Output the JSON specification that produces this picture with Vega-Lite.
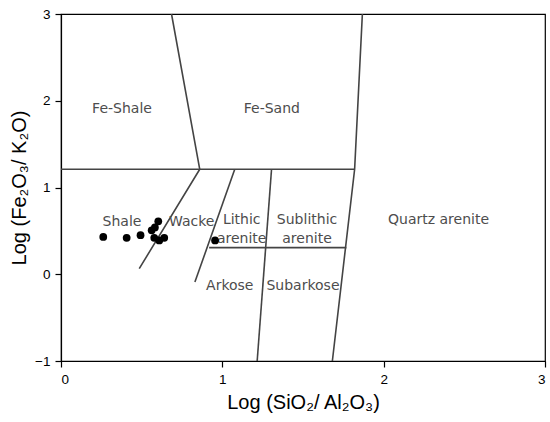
{
  "$schema": "https://vega.github.io/schema/vega-lite/v6.json",
  "width": 484,
  "height": 347,
  "autosize": {"type": "none"},
  "padding": {"left": 61, "top": 14, "right": 5, "bottom": 61},
  "background": "white",
  "config": {
    "view": {"stroke": "#000", "strokeWidth": 1.2},
    "axis": {
      "domainColor": "#000", "tickColor": "#000", "labelColor": "#000", "titleColor": "#000",
      "labelFont": "Liberation Sans", "titleFont": "Liberation Sans",
      "labelFontSize": 13.5, "titleFontSize": 20, "titleFontWeight": "normal",
      "tickSize": 6, "grid": false, "domainWidth": 1.2, "tickWidth": 1.2, "format": "d"
    }
  },
  "datasets": {
    "lines": [
      {"seg": "a", "ord": 1, "x": 0.685, "y": 3},
      {"seg": "a", "ord": 2, "x": 0.86, "y": 1.21},
      {"seg": "a", "ord": 3, "x": 0.485, "y": 0.065},
      {"seg": "b", "ord": 1, "x": 0, "y": 1.21},
      {"seg": "b", "ord": 2, "x": 1.82, "y": 1.21},
      {"seg": "c", "ord": 1, "x": 1.868, "y": 3},
      {"seg": "c", "ord": 2, "x": 1.82, "y": 1.21},
      {"seg": "c", "ord": 3, "x": 1.682, "y": -1},
      {"seg": "d", "ord": 1, "x": 1.077, "y": 1.21},
      {"seg": "d", "ord": 2, "x": 0.83, "y": -0.09},
      {"seg": "e", "ord": 1, "x": 1.305, "y": 1.21},
      {"seg": "e", "ord": 2, "x": 1.216, "y": -1},
      {"seg": "f", "ord": 1, "x": 0.918, "y": 0.307},
      {"seg": "f", "ord": 2, "x": 1.769, "y": 0.307}
    ],
    "points": [
      {"x": 0.262, "y": 0.43},
      {"x": 0.407, "y": 0.42},
      {"x": 0.493, "y": 0.45},
      {"x": 0.603, "y": 0.61},
      {"x": 0.582, "y": 0.54},
      {"x": 0.562, "y": 0.506},
      {"x": 0.578, "y": 0.42},
      {"x": 0.609, "y": 0.39},
      {"x": 0.64, "y": 0.42},
      {"x": 0.955, "y": 0.39}
    ],
    "labels": [
      {"x": 0.378, "y": 1.91, "text": "Fe-Shale"},
      {"x": 1.307, "y": 1.91, "text": "Fe-Sand"},
      {"x": 0.378, "y": 0.6, "text": "Shale"},
      {"x": 0.81, "y": 0.6, "text": "Wacke"},
      {"x": 1.12, "y": 0.63, "text": "Lithic"},
      {"x": 1.12, "y": 0.41, "text": "arenite"},
      {"x": 1.525, "y": 0.63, "text": "Sublithic"},
      {"x": 1.525, "y": 0.41, "text": "arenite"},
      {"x": 2.34, "y": 0.63, "text": "Quartz arenite"},
      {"x": 1.046, "y": -0.14, "text": "Arkose"},
      {"x": 1.5, "y": -0.14, "text": "Subarkose"}
    ]
  },
  "layer": [
    {
      "data": {"name": "lines"},
      "mark": {"type": "line", "color": "#444", "strokeWidth": 1.6},
      "encoding": {
        "x": {"field": "x", "type": "quantitative", "scale": {"domain": [0, 3], "nice": false},
          "axis": {"values": [0, 1, 2, 3], "title": "Log (SiO₂/ Al₂O₃)", "titlePadding": 7, "labelPadding": 5}},
        "y": {"field": "y", "type": "quantitative", "scale": {"domain": [-1, 3], "nice": false},
          "axis": {"values": [-1, 0, 1, 2, 3], "title": "Log (Fe₂O₃/ K₂O)", "titlePadding": 5, "labelPadding": 5}},
        "detail": {"field": "seg"},
        "order": {"field": "ord"}
      }
    },
    {
      "data": {"name": "labels"},
      "mark": {"type": "text", "font": "DejaVu Sans", "fontSize": 14, "color": "#4d4d4d"},
      "encoding": {
        "x": {"field": "x", "type": "quantitative"},
        "y": {"field": "y", "type": "quantitative"},
        "text": {"field": "text"}
      }
    },
    {
      "data": {"name": "points"},
      "mark": {"type": "circle", "color": "#000", "opacity": 1, "size": 60},
      "encoding": {
        "x": {"field": "x", "type": "quantitative"},
        "y": {"field": "y", "type": "quantitative"}
      }
    }
  ]
}
